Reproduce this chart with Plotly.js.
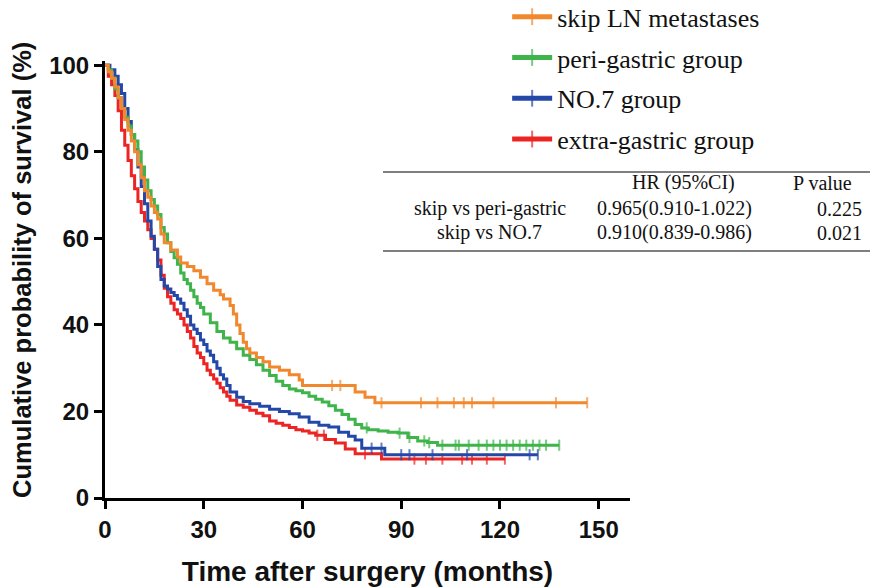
<!DOCTYPE html>
<html>
<head>
<meta charset="utf-8">
<script src="https://cdn.plot.ly/plotly-3.0.1.min.js"></script>
<style>
html,body{margin:0;padding:0;background:#fff;}
#chart{width:870px;height:588px;}
</style>
</head>
<body>
<div id="chart"></div>
<script>
// ---- Data (months, survival %) ----
const groupNames = ["skip LN metastases", "peri-gastric group", "NO.7 group", "extra-gastric group"];

const orangeT = [0,1,2,3,4,5,6,7,8,9,10,11,12,13,14,15,16,17,18,20,22,23,25,27,29,31,33,35,36,38,39,40,41,42,43,44,46,48,50,53,56,59,60,76,79,82];
const orangeS = [100,98.5,97,95,92.5,90,87.5,85,82.5,80,77,74,71,69.5,67.5,66,64.5,61,59,57.3,55.7,54.3,53.5,52.5,51,49.5,48,47,46,44.5,42.5,40,38,36,34.5,33.5,32.5,31.5,30.3,29.5,28.5,27.3,26,24.5,23.3,22];
const orangeCensor = [69,71.5,84,96,101,106,109,111.5,118,137,146.5];

const greenT = [0,1,2,3,4,5,6,7,8,9,10,11,12,13,14,15,16,17,18,19,20,21,22,23,24,25,26,27,28,29,30,32,34,36,38,40,42,44,46,48,50,52,54,56,58,60,62,64,66,68,70,72,74,76,78,80,83,86,89,92,95,98,101];
const greenS = [100,99,97,94.5,92.5,90,88,86,84,82.5,80,76.5,73.5,71,69,67.5,65.5,62.5,61,59,57,55.5,54,52,50.5,49.5,48,46.5,45,44,42.5,40.5,38.5,37,36,34.5,33,32,30.8,29.5,28.3,27,26,25.2,24.8,24.3,23.5,22.8,22.2,21.3,20.3,19.3,18.2,17,16.2,15.8,15.5,15.2,15,14,13.2,12.8,12.2];
const greenCensor = [79.5,89.5,92.5,97,98.5,102.5,106.5,107.5,110.5,113.5,116,118,120,122,124,126,128,130,132,134,138];

const blueT = [0,1.5,3,4,5,6,7,8,9,10,11,12,13,14,15,16,17,18,19,20,21,22,23,24,25,26,27,28,29,30,31,32,33,34,35,36,37,38,40,42,44,47,50,53,56,59,62,65,68,71,74,76,78,85];
const blueS = [100,99,97.5,95.5,93.5,90,87,84,80.5,76.5,72,68,64,60.5,57.5,53.5,50.5,49,48.3,47.5,46.8,46,45,43.5,42,40,39,38,36.5,35.5,34,33,31.5,30,28.5,27.5,26,24.5,23.3,22.3,21.8,21.2,20.5,20,19.5,18.7,17.5,16.8,16.4,15.2,14.3,13.4,11.5,10];
const blueCensor = [81,84,90,92.5,99.5,110,129,131.5];

const redT = [0,1,2,3,4,5,6,7,8,9,10,11,12,13,14,15,16,17,18,19,20,21,22,23,24,25,26,27,28,29,30,31,32,33,34,35,36,37,38,40,42,44,46,48,50,52,54,56,58,60,62,64,67,70,73,76,84];
const redS = [100,97.5,95.5,93,89.5,85,81.5,78,74.5,71.5,68.5,66,64,62,60,57.5,55,51.5,48.5,46.5,45,43.5,42.5,41.5,40,38.5,37,35,33.5,32.5,31,29.5,28.5,27.5,26.5,25.5,24.5,23.5,22.6,21.5,21,20.3,19.6,19,17.8,17.3,16.8,16.3,15.8,15.5,15,14.5,13.5,12.7,11.3,10.2,9];
const redCensor = [64.5,66.5,79,94,97.5,102.5,108.5,111.5,116,121.5];

const colors = ["rgb(242,136,46)", "rgb(62,180,74)", "rgb(36,72,168)", "rgb(236,36,36)"];

const xTicks = [0,30,60,90,120,150];
const yTicks = [0,20,40,60,80,100];
const xTitle = "Time after surgery (months)";
const yTitle = "Cumulative probability of survival (%)";

// Table
const tableHeader = ["HR (95%CI)", "P value"];
const comparisons = ["skip vs peri-gastric", "skip vs NO.7"];
const hrCI = ["0.965(0.910-1.022)", "0.910(0.839-0.986)"];
const pValues = ["0.225", "0.021"];

// ---- Build traces ----
function levelAt(T, S, t) {
  let v = S[0];
  for (let i = 0; i < T.length; i++) { if (T[i] <= t) v = S[i]; }
  return v;
}
function buildTrace(T, S, C, name, color, rank) {
  const pts = T.map((t, i) => ({x: t, y: S[i], c: false}));
  C.forEach(t => pts.push({x: t, y: levelAt(T, S, t), c: true}));
  pts.sort((a, b) => a.x - b.x || (a.c - b.c));
  return {
    type: "scatter",
    mode: "lines+markers",
    name: name,
    legendgroup: name,
    legendrank: rank,
    x: pts.map(p => p.x),
    y: pts.map(p => p.y),
    line: {shape: "hv", color: color, width: 3},
    marker: {
      symbol: "line-ns",
      size: pts.map(p => p.c ? 8 : 0),
      color: color,
      line: {color: color, width: 2}
    },
    cliponaxis: false,
    hoverinfo: "skip"
  };
}

const traces = [
  buildTrace(redT, redS, redCensor, groupNames[3], colors[3], 4),
  buildTrace(blueT, blueS, blueCensor, groupNames[2], colors[2], 3),
  buildTrace(greenT, greenS, greenCensor, groupNames[1], colors[1], 2),
  buildTrace(orangeT, orangeS, orangeCensor, groupNames[0], colors[0], 1)
];

// ---- Table as annotations + shapes (paper coords) ----
const serif = "Liberation Serif, Times New Roman, serif";
const sans = "Arial, Liberation Sans, sans-serif";
const tf = {family: serif, size: 20, color: "#111"};
const annotations = [];
annotations.push({xref:"paper", yref:"paper", x:1.101, y:0.721, text:tableHeader[0], showarrow:false, xanchor:"center", yanchor:"middle", font:tf});
annotations.push({xref:"paper", yref:"paper", x:1.426, y:0.721, text:tableHeader[1], showarrow:false, xanchor:"right", yanchor:"middle", font:tf});
const rowY = [0.662, 0.607];
comparisons.forEach((c, i) => {
  annotations.push({xref:"paper", yref:"paper", x:0.733, y:rowY[i], text:c, showarrow:false, xanchor:"center", yanchor:"middle", font:tf});
  annotations.push({xref:"paper", yref:"paper", x:1.084, y:rowY[i], text:hrCI[i], showarrow:false, xanchor:"center", yanchor:"middle", font:tf});
  annotations.push({xref:"paper", yref:"paper", x:1.445, y:rowY[i], text:pValues[i], showarrow:false, xanchor:"right", yanchor:"middle", font:tf});
});
// y-axis title placed as rotated text
annotations.push({xref:"paper", yref:"paper", x:-0.158, y:0.522, text:yTitle, textangle:-90, showarrow:false, xanchor:"center", yanchor:"middle", font:{family: sans, size: 25.5, color: "#111", weight: "bold"}});

const shapes = [
  {type:"line", xref:"paper", yref:"paper", x0:0.5295, x1:1.46, y0:0.746, y1:0.746, line:{color:"#555", width:1.5}},
  {type:"line", xref:"paper", yref:"paper", x0:0.5295, x1:1.46, y0:0.565, y1:0.565, line:{color:"#555", width:1.5}}
];

const layout = {
  width: 870, height: 588,
  margin: {l: 105, r: 240, t: 61, b: 90, autoexpand: false},
  paper_bgcolor: "#fff", plot_bgcolor: "#fff",
  showlegend: true,
  legend: {
    x: 0.766, y: 1.155, xanchor: "left", yanchor: "top",
    font: {family: serif, size: 26, color: "#111"},
    traceorder: "grouped", tracegroupgap: 4,
    itemsizing: "constant", itemwidth: 40,
    bgcolor: "rgba(0,0,0,0)", borderwidth: 0
  },
  xaxis: {
    range: [0, 159.5], tickvals: xTicks, ticktext: xTicks.map(String),
    showgrid: false, zeroline: false, showline: true, linecolor: "#000", linewidth: 3,
    ticks: "outside", ticklen: 8, tickwidth: 3, tickcolor: "#000",
    tickfont: {family: sans, size: 24, color: "#111", weight: "bold"},
    title: {text: xTitle, font: {family: sans, size: 28, color: "#111", weight: "bold"}, standoff: 20},
    automargin: false, fixedrange: true
  },
  yaxis: {
    range: [0, 101], tickvals: yTicks, ticktext: yTicks.map(String),
    showgrid: false, zeroline: false, showline: true, linecolor: "#000", linewidth: 3,
    ticks: "outside", ticklen: 8, tickwidth: 3, tickcolor: "#000",
    tickfont: {family: sans, size: 24, color: "#111", weight: "bold"},
    automargin: false, fixedrange: true
  },
  annotations: annotations,
  shapes: shapes
};

Plotly.newPlot("chart", traces, layout, {staticPlot: true, displayModeBar: false});
</script>
</body>
</html>
